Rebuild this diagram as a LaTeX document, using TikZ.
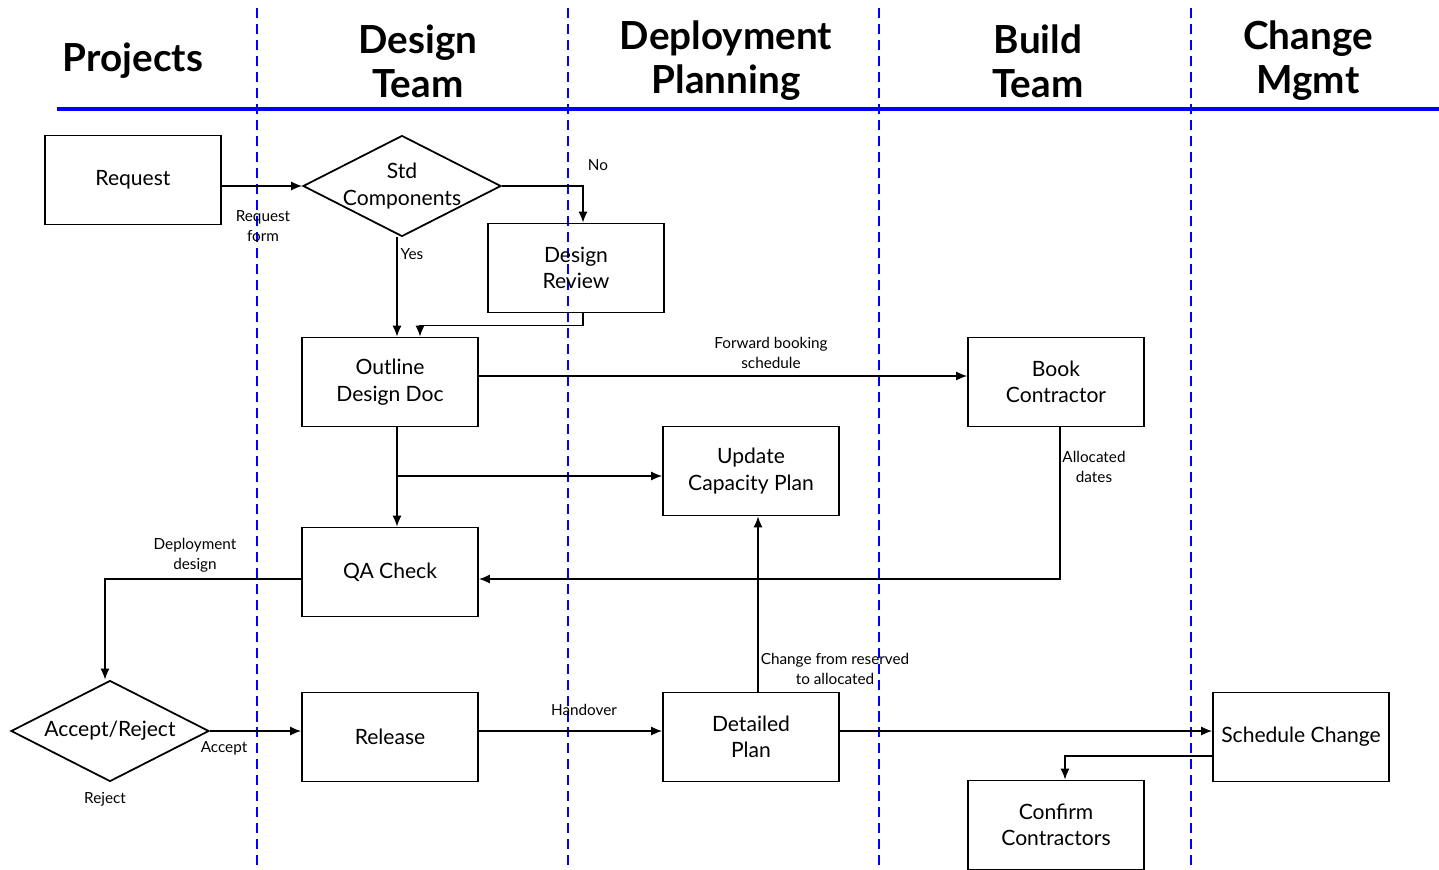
\documentclass[tikz,border=0pt]{standalone}
\usepackage{fontspec}
\setmainfont{Lato}
\usetikzlibrary{shapes.geometric,arrows.meta}
\tikzset{
  box/.style={draw,line width=1pt,minimum width=3.52cm,minimum height=1.78cm,inner sep=0pt,align=center,font=\fontsize{12}{15}\selectfont},
  choice/.style={draw,diamond,line width=1pt,minimum width=3.96cm,minimum height=2.02cm,inner sep=0pt},
  head/.style={align=center,font=\bfseries\fontsize{22}{25}\selectfont},
  lbl/.style={align=center,inner sep=0pt,font=\fontsize{8.7}{11.5}\selectfont},
  lane/.style={blue,line width=1.4pt,dash pattern=on 5.7pt off 3.4pt},
  flow/.style={line width=0.8pt,-{Latex[length=0.22cm,width=0.18cm]}},
}
\begin{document}
\begin{tikzpicture}[x=0.02cm,y=-0.02cm]
\useasboundingbox (0,0) rectangle (1439,869);
% swim lanes
\foreach \x in {257,568,879,1191}
  \draw[lane] (\x,8) -- (\x,869);
\draw[blue,line width=2.2pt] (57,109) -- (1439,109);
\node[head] (hproj) at (133,61) {Projects};
\node[head] (hdes) at (418,61) {Design\\Team};
\node[head] (hdep) at (726,61) {Deployment\\Planning};
\node[head] (hbuild) at (1038,61) {Build\\Team};
\node[head] (hchg) at (1308,61) {Change\\Mgmt};
% steps
\node[box] (request) at (133,180) {Request};
\node[choice,label={[align=center,font=\fontsize{12}{15}\selectfont]center:Std\\Components}] (std) at (402,186) {};
\node[box] (review) at (576,268) {Design\\Review};
\node[box] (outline) at (390,382) {Outline\\Design Doc};
\node[box] (book) at (1056,382) {Book\\Contractor};
\node[box] (capacity) at (751,471) {Update\\Capacity Plan};
\node[box] (qa) at (390,572) {QA Check};
\node[choice,label={[font=\fontsize{12}{15}\selectfont]center:Accept/Reject}] (accept) at (110,731) {};
\node[box] (release) at (390,737) {Release};
\node[box] (detailed) at (751,737) {Detailed\\Plan};
\node[box] (schedule) at (1301,737) {Schedule Change};
\node[box] (confirm) at (1056,825) {Confirm\\Contractors};
% connectors
\draw[flow] (request.east |- std.west) -- (std.west);
\draw[flow] (std.east) -| ([xshift=0.14cm]review.north);
\draw[flow] ([xshift=-0.1cm]std.south) -- ([xshift=-0.1cm]std.south |- outline.north);
\draw[flow] ([xshift=0.14cm]review.south) -- ++(0,12) -| ([xshift=0.6cm]outline.north);
\draw[flow] ([yshift=0.12cm]outline.east) -- ([yshift=0.12cm]book.west);
\draw[flow] ([xshift=0.14cm]outline.south) -- ([xshift=0.14cm]qa.north);
\coordinate (split) at (397,476);
\draw[flow] (split) -- (split -| capacity.west);
\draw[flow] ([xshift=0.08cm]book.south) |- ([yshift=-0.14cm]qa.east);
\draw[flow] ([yshift=-0.14cm]qa.west) -| ([xshift=-0.1cm]accept.north);
\draw[flow] (accept.east) -- (accept.east -| release.west);
\draw[flow] ([yshift=0.12cm]release.east) -- ([yshift=0.12cm]detailed.west);
\draw[flow] ([xshift=0.14cm]detailed.north) -- ([xshift=0.14cm]capacity.south);
\draw[flow] ([yshift=0.12cm]detailed.east) -- ([yshift=0.12cm]schedule.west);
\draw[flow] ([yshift=-0.38cm]schedule.west) -| ([xshift=0.18cm]confirm.north);
% labels
\node[lbl] (lform) at (263,226) {Request\\form};
\node[lbl] (lno) at (598,165) {No};
\node[lbl] (lyes) at (412,254) {Yes};
\node[lbl] (lfwd) at (771,353) {Forward booking\\schedule};
\node[lbl] (ldates) at (1094,467) {Allocated\\dates};
\node[lbl] (ldesign) at (195,555) {Deployment\\design};
\node[lbl] (lacc) at (224,748) {Accept};
\node[lbl] (lrej) at (105,799) {Reject};
\node[lbl] (lhand) at (584,710) {Handover};
\node[lbl] (lchange) at (835,669) {Change from reserved\\to allocated};
\end{tikzpicture}
\end{document}
